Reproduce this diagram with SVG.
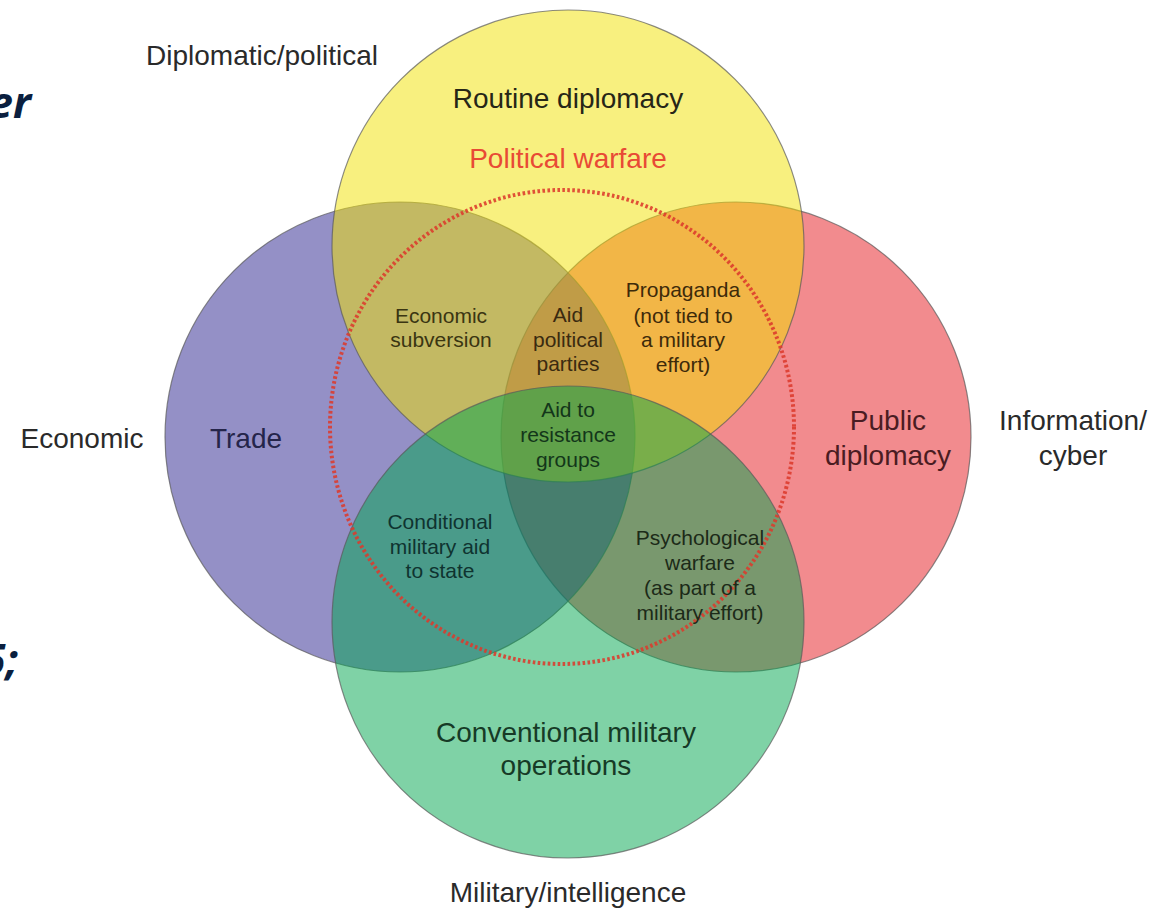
<svg xmlns="http://www.w3.org/2000/svg" width="1150" height="910" viewBox="0 0 1150 910">
<style>
  .lbl { font-family: "Liberation Sans", Arial, sans-serif; font-size: 28px; text-anchor: middle; }
  .sm { font-family: "Liberation Sans", Arial, sans-serif; font-size: 21px; text-anchor: middle; }
  .out { fill: #2a2a2a; }
  .circ { fill-opacity: 0.5; stroke: #5a5a5a; stroke-opacity: 0.7; stroke-width: 1.2; }
  .slide { font-family: "Open Sans", "DejaVu Sans", sans-serif; font-weight: bold; font-style: italic; font-size: 43px; fill: #0b1f3f; text-anchor: end; }
</style>
<rect width="1150" height="910" fill="#ffffff"/>

<text class="slide" x="31" y="118">er</text>
<text class="slide" x="18" y="675">5;</text>

<g id="information-cyber">
  <circle class="circ" cx="736" cy="437" r="235" fill="#e5171d"/>
  <text class="lbl" x="888" y="430" fill="#4a1c22">Public</text>
  <text class="lbl" x="888" y="465" fill="#4a1c22">diplomacy</text>
  <text class="lbl out" x="1073" y="430">Information/</text>
  <text class="lbl out" x="1073" y="465">cyber</text>
</g>

<g id="economic">
  <circle class="circ" cx="400" cy="437" r="235" fill="#29218d"/>
  <text class="lbl" x="246" y="448" fill="#25254a">Trade</text>
  <text class="lbl out" x="82" y="448">Economic</text>
</g>

<g id="diplomatic-political">
  <circle class="circ" cx="568" cy="246" r="236" fill="#f1e100"/>
  <text class="lbl" x="568" y="108" fill="#262617">Routine diplomacy</text>
  <text class="lbl out" x="262" y="65">Diplomatic/political</text>
</g>

<g id="military-intelligence">
  <circle class="circ" cx="568" cy="622" r="236" fill="#00a54d"/>
  <text class="lbl" x="566" y="742" fill="#163a26">Conventional military</text>
  <text class="lbl" x="566" y="775" fill="#163a26">operations</text>
  <text class="lbl out" x="568" y="902">Military/intelligence</text>
</g>

<g id="political-warfare">
  <ellipse cx="562" cy="427" rx="232" ry="237" fill="none" stroke="#dc3a2c" stroke-opacity="0.88" stroke-width="4" stroke-dasharray="2.6 2.4"/>
  <text class="lbl" x="568" y="168" fill="#e84a35">Political warfare</text>
</g>

<g id="economic-subversion">
  <text class="sm" x="441" y="323" fill="#3a3512">Economic</text>
  <text class="sm" x="441" y="347" fill="#3a3512">subversion</text>
</g>

<g id="aid-political-parties">
  <text class="sm" x="568" y="322" fill="#3a2a10">Aid</text>
  <text class="sm" x="568" y="347" fill="#3a2a10">political</text>
  <text class="sm" x="568" y="371" fill="#3a2a10">parties</text>
</g>

<g id="propaganda">
  <text class="sm" x="683" y="297" fill="#3d2a0a">Propaganda</text>
  <text class="sm" x="683" y="323" fill="#3d2a0a">(not tied to</text>
  <text class="sm" x="683" y="347" fill="#3d2a0a">a military</text>
  <text class="sm" x="683" y="372" fill="#3d2a0a">effort)</text>
</g>

<g id="aid-to-resistance-groups">
  <text class="sm" x="568" y="417" fill="#13361a">Aid to</text>
  <text class="sm" x="568" y="442" fill="#13361a">resistance</text>
  <text class="sm" x="568" y="467" fill="#13361a">groups</text>
</g>

<g id="conditional-military-aid">
  <text class="sm" x="440" y="529" fill="#0f3330">Conditional</text>
  <text class="sm" x="440" y="554" fill="#0f3330">military aid</text>
  <text class="sm" x="440" y="578" fill="#0f3330">to state</text>
</g>

<g id="psychological-warfare">
  <text class="sm" x="700" y="545" fill="#1c2a18">Psychological</text>
  <text class="sm" x="700" y="570" fill="#1c2a18">warfare</text>
  <text class="sm" x="700" y="595" fill="#1c2a18">(as part of a</text>
  <text class="sm" x="700" y="620" fill="#1c2a18">military effort)</text>
</g>

<g id="connectors"></g>
</svg>
